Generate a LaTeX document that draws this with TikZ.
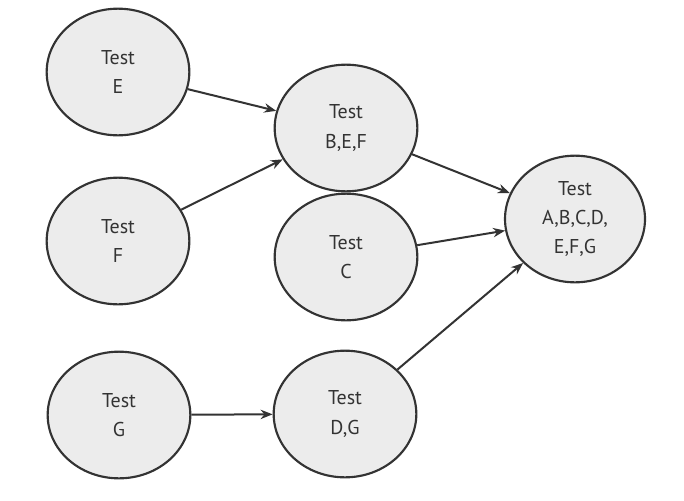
\documentclass[tikz,border=0pt]{standalone}
\usepackage{fontspec}
\setmainfont{PT Sans}
\usetikzlibrary{arrows.meta,shapes.geometric}
\begin{document}
\begin{tikzpicture}[x=0.75pt,y=-0.75pt,
  tnode/.style={draw=black!80,line width=1.6pt,fill=gray!15,ellipse,minimum width=107pt,minimum height=95pt,inner sep=0pt,align=center,font=\fontsize{15}{22}\selectfont,text=black!80},
  conn/.style={draw=black!80,line width=1.5pt,-{Stealth[length=9pt,width=7pt]}}]
\useasboundingbox (0,0) rectangle (684,500);
\node[tnode] (e) at (118,72) {Test\\E};
\node[tnode] (f) at (118,241) {Test\\F};
\node[tnode] (g) at (119,415) {Test\\G};
\node[tnode] (bef) at (346,128) {Test\\B,E,F};
\node[tnode] (c) at (346,257) {Test\\C};
\node[tnode] (dg) at (345,414) {Test\\D,G};
\node[tnode,minimum width=105pt] (all) at (575,219) {Test\\A,B,C,D,\\E,F,G};
\draw[conn] (e) -- (bef);
\draw[conn] (f) -- (bef);
\draw[conn] (g) -- (dg);
\draw[conn] (bef) -- (all);
\draw[conn] (c) -- (all);
\draw[conn] (dg) -- (all);
\end{tikzpicture}
\end{document}
